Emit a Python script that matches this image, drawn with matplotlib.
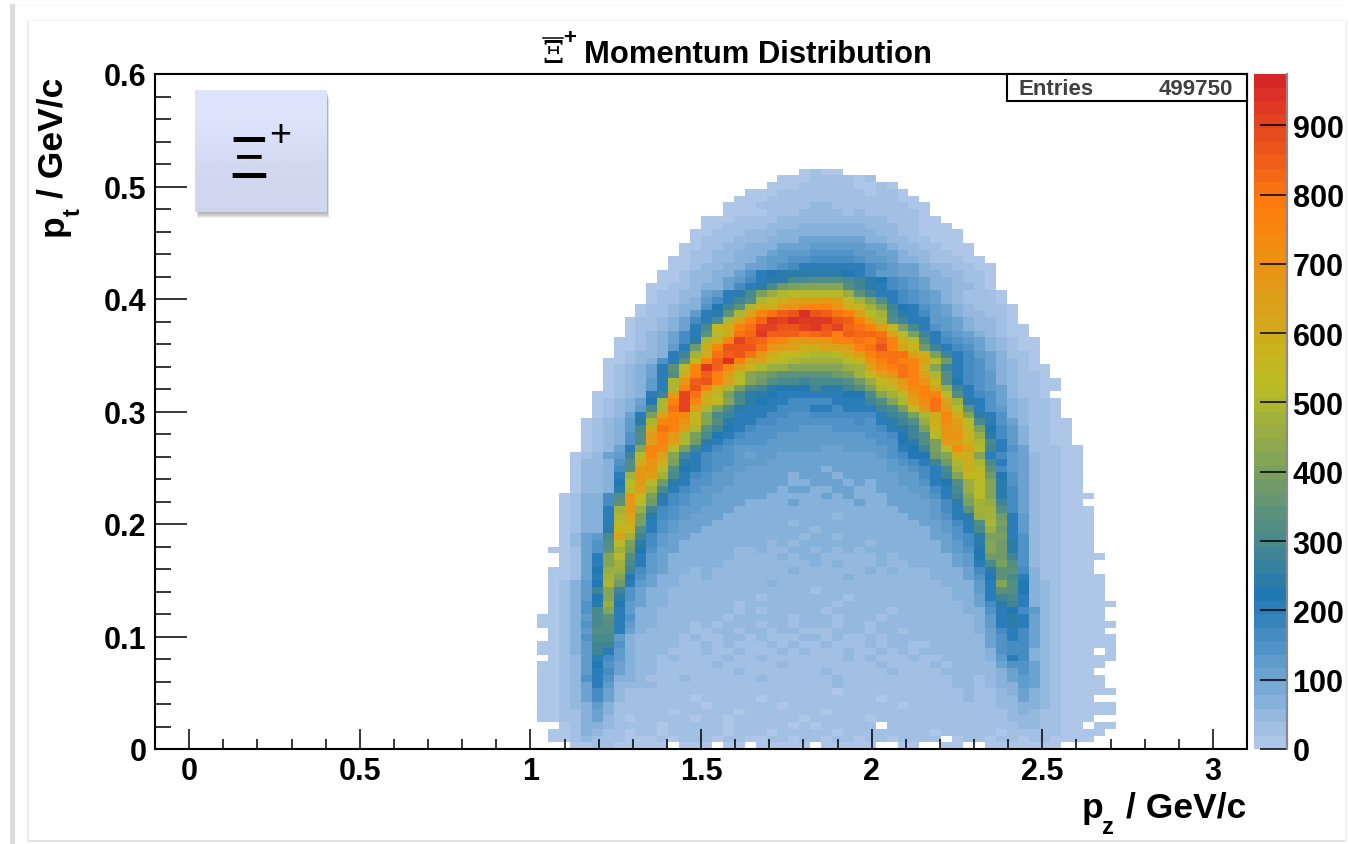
import numpy as np
import matplotlib
matplotlib.use('Agg')
import matplotlib.pyplot as plt
from matplotlib.colors import LinearSegmentedColormap
from matplotlib.lines import Line2D
from matplotlib.patches import Rectangle
from matplotlib.ticker import MultipleLocator

plt.rcParams['font.family'] = ['Liberation Sans', 'DejaVu Sans']
plt.rcParams['font.weight'] = 'bold'

W, H = 1349, 845

# histogram, one string per pt bin (top row first).
# columns are pz bins 35..87, '.' is an empty bin, other chars are counts in steps of 25
level_chars = "0123456789abcdefghijklmnopqrstuvwxyzABCD"
hist_rows = [
    "..... ..... ..... ..... ....0 100.. ..... ..... ..... ..... ...",
    "..... ..... ..... ..... ..000 11110 1.... ..... ..... ..... ...",
    "..... ..... ..... ..... .0001 11110 010.. ..... ..... ..... ...",
    "..... ..... ..... ....0 00111 11111 0110. ..... ..... ..... ...",
    "..... ..... ..... ...00 01111 11111 11100 ..... ..... ..... ...",
    "..... ..... ..... ..000 11111 22111 11110 0.... ..... ..... ...",
    "..... ..... ..... ..000 01112 22212 11111 0.... ..... ..... ...",
    "..... ..... ..... 00011 11222 22222 22111 00... ..... ..... ...",
    "..... ..... ..... 00111 12223 33333 22211 000.. ..... ..... ...",
    "..... ..... ....0 01112 22333 33333 32211 0000. ..... ..... ...",
    "..... ..... ....0 11122 23334 44444 33221 1000. ..... ..... ...",
    "..... ..... ...00 11223 33444 55555 44322 11000 ..... ..... ...",
    "..... ..... ...01 12233 34555 66665 54432 21100 ..... ..... ...",
    "..... ..... ..001 12233 45566 77776 55433 21110 0.... ..... ...",
    "..... ..... ..001 22334 45678 88888 76544 32211 00... ..... ...",
    "..... ..... .0012 23346 89aaa aaa98 75544 33221 10... ..... ...",
    "..... ..... .0012 23457 8aacc dddcb a9765 43321 10... ..... ...",
    "..... ..... 00112 33478 acfgh hhhdb a8765 43322 10... ..... ...",
    "..... ..... 01122 458ac gikll lllie b8876 54321 110.. ..... ...",
    "..... ..... 01123 578bd kmopq qrqmj gd876 54321 110.. ..... ...",
    "..... ....0 11233 69bek oorsu vvsom jgb98 65432 1110. ..... ...",
    "..... ....0 11235 8aekp uwyzC zywvq ljca8 75432 2110. ..... ...",
    "..... ...01 12347 8ckpv xBACB BBzyv pkdb8 85543 2210. ..... ...",
    "..... ...01 12348 cmovw AAzzA BzAxw vqmgc 86543 22100 ..... ...",
    "..... ...01 23478 elowx Byyyw xyvyx xwplg b8654 32100 ..... ...",
    "..... ..001 2347a kovAy xvurr ssvvw vxvol d8765 43210 0.... ...",
    "..... ..001 2358f ouzzz wsqpo oppqv wzvpn fb876 43210 0.... ...",
    "..... ..012 238bj owyzw romml kkloq vwwwp ogb87 54311 0.... ...",
    "..... .0012 368em uyCvp pmlkj jjjln svwvu plf87 64321 0.... ...",
    "..... .0123 48elu Byupn kiihh hhhij ptvwv ohb87 64321 00... ...",
    "..... .0123 48dov yvqlh gfeee eefgj mpswv pkd87 65321 10... ...",
    "..... .0123 58ksy zvplh fdccb cccdf imorv smd97 65321 100.. ...",
    "..... .0123 58kvz uokgc ba999 baabd gklqt vpib8 65421 100.. ...",
    "..... 00123 8bqAw olgca a9888 88899 chjls vvld8 76421 10... ...",
    "..... 01234 9kvAu omhca 98877 77888 bdhkq twpja 86432 110.. ...",
    "..... 01235 ckwAq kgca8 88777 88788 8bcgm rwrle 86532 110.. ...",
    "..... 01248 gpvum hcb88 87766 77777 78bcg kouoh a8632 110.. ...",
    "....0 1235a kuvsm hda88 77666 66667 68abd iotql c8642 1100. ...",
    "....0 1235c owvqk eb987 66665 55666 678ab gnsrm g9753 1100. ...",
    "....0 1236d rvrkg c9876 66555 55555 6679b dlssn ia753 1100. ...",
    "....0 1236d qvqkf a8766 65555 55555 5669a dgrqo kc853 1100. ...",
    "....0 1248h vtlgb 87655 55555 54455 55689 bgltp lb864 11100 ...",
    "...01 245bl uphb8 76654 55444 44444 45679 9fhoo h8754 21100 ...",
    "...02 236do soga8 76655 54444 44444 44567 8bfko kc854 21100 ...",
    "...02 237dr sld98 76554 44444 43444 44556 78cjo le754 21100 ...",
    "...02 238js qjc87 65544 44434 44344 44455 78bhm mf964 21100 ...",
    "...02 239lr lfa86 65544 44433 44434 34455 689di lha64 21100 ...",
    "...02 23alq jc876 55444 44344 33443 34445 578ci lha74 21100 ...",
    "..013 37dsm ga765 54444 43333 34343 33444 568bh lha74 21100 0..",
    "..013 37erl f8765 54443 33343 33334 33444 457ag jib74 21100 ...",
    "..013 38jri b7655 44433 33333 33333 33344 4578e jjd74 21100 0..",
    "..013 38kpg a7654 44333 33333 33233 33334 4568a ijf85 21100 0..",
    "..013 38log 86544 43333 33323 33333 33333 44578 dkg85 21100 0..",
    "..013 3anmd 86544 33333 33333 23333 33333 34568 cif85 21100 0..",
    "..024 5cpjb 75443 33333 33332 33233 33333 34467 agg86 21100 0..",
    "..024 6dlga 75433 33333 32323 33333 23333 33457 ahfa6 21100 0..",
    ".0014 6ejf9 64433 33322 32233 23232 33333 33456 9hfa6 21100 0..",
    "..014 8hld8 54333 33322 22323 32222 23233 33345 9ffb6 21100 00.",
    "..014 8hjc8 54333 33222 22222 32322 23223 33345 8cgd6 21100 0..",
    ".0014 9iib7 54332 32222 22232 22222 32322 23334 7aee7 31100 0..",
    ".0014 8jh96 43322 32222 22222 22232 22222 23334 69ec8 31100 00.",
    ".0135 9kf85 43322 22222 23222 22222 22222 22333 58hd9 32100 00.",
    ".0135 bhb64 33222 22222 22222 12222 22222 22233 58ed9 32100 00.",
    ".0135 9ha64 33222 22222 12222 22212 22222 22233 48bc8 32100 00.",
    ".0136 ai954 33222 22212 22222 22122 22222 22223 47ab8 32100 000",
    ".0136 ch853 32222 22212 12222 21222 22122 22223 36897 52100 00.",
    "00135 ce863 32222 22122 22212 22122 21222 22222 358a8 42100 00.",
    "00136 cd853 32221 21222 12212 22122 12222 22222 358a8 42100 000",
    ".0135 dd843 22221 12212 21221 11222 12212 22222 34787 42100 00.",
    ".0136 cc532 22212 11221 21112 21211 21222 22222 24687 42100 000",
    "00135 bb632 22211 21211 12121 12111 21221 12222 24677 42100 000",
    "00135 b8532 22111 21121 11212 11121 12121 22222 23677 32100 0.0",
    ".0125 87532 21211 11211 21111 11121 21112 11222 23587 32100 000",
    "00125 96432 21111 12111 11211 11111 12111 12122 22466 42100 00.",
    "00125 87432 21111 11121 11111 12111 11211 11222 22346 42100 0..",
    "00126 86332 11121 11111 21111 11211 11111 11122 12345 42100 00.",
    "00124 85222 21111 11111 11111 11211 11111 11122 12335 42100 00.",
    "00124 74211 11111 11111 11111 11011 11111 11112 11234 32100 000",
    "00124 74211 11110 11111 01111 11111 10111 11112 11224 32100 0..",
    "00123 53111 11111 01111 11011 11111 11101 11111 11223 32100 000",
    "00113 43111 11011 11101 11111 10111 11111 11111 11123 21100 000",
    "00113 42101 11110 11011 11110 11111 01111 11111 11122 21100 0..",
    "..013 32111 10111 11011 11101 01111 1.111 11111 11112 21100 .00",
    ".0013 21101 10111 11011 10111 11011 11111 10111 11011 11100 00.",
    ".0012 11100 01011 10110 01101 10110 11011 11.01 10110 11000 0..",
    "...00 11000 00.00 0.00. 00000 .0000 0..00 ..00. .0000 000.. ...",
]

x_ticks = [0, 0.5, 1, 1.5, 2, 2.5, 3]
x_labels = ['0', '0.5', '1', '1.5', '2', '2.5', '3']
y_ticks = [0, 0.1, 0.2, 0.3, 0.4, 0.5, 0.6]
y_labels = ['0', '0.1', '0.2', '0.3', '0.4', '0.5', '0.6']
z_ticks = [0, 100, 200, 300, 400, 500, 600, 700, 800, 900]
entries = 499750

# same look as the ROOT palette in the slide
cmap = LinearSegmentedColormap.from_list('root_tab', [
    (0.0, '#aec7e8'), (215 / 975, '#1f77b4'), (530 / 975, '#bcbd22'),
    (785 / 975, '#ff7f0e'), (1.0, '#d62728')], N=50)


def decode(row):
    row = row.replace(' ', '')
    out = []
    for ch in row:
        if ch == '.':
            out.append(np.nan)
        elif ch == '0':
            out.append(8)
        else:
            out.append(level_chars.index(ch) * 25)
    return out


def px_axes(x0, y0, x1, y1, **kw):
    return fig.add_axes([x0 / W, 1 - y1 / H, (x1 - x0) / W, (y1 - y0) / H], **kw)


def px_text(x, y, s, **kw):
    return fig.text(x / W, 1 - y / H, s, **kw)


def px_rect(x, y, w, h, **kw):
    fig.add_artist(Rectangle((x / W, 1 - (y + h) / H), w / W, h / H, transform=fig.transFigure, lw=0, **kw))


counts = np.ma.masked_invalid(np.array([decode(r) for r in hist_rows][::-1], dtype=float))
x_edges = np.linspace(-0.1, 3.1, 101)[35:89]
y_edges = np.linspace(0, 0.6, 101)[:87]

fig = plt.figure(figsize=(W / 100, H / 100), dpi=100)

# slide background lines
px_rect(10, 5, 5, 840, color='#dcdcdc')
px_rect(27, 841, 1318, 2, color='#e2e2e2')
px_rect(27, 22, 1.5, 821, color='#ececec')
px_rect(27, 21, 1318, 1, color='#f5f5f5')
px_rect(15, 6, 1330, 1, color='#f7f7f7')
px_rect(1345, 22, 1.5, 821, color='#f0f0f0')

ax = px_axes(155, 75, 1247, 750)
mesh = ax.pcolormesh(x_edges, y_edges, counts, cmap=cmap, vmin=0, vmax=974)
ax.set_xlim(-0.1, 3.1)
ax.set_ylim(0, 0.6)
ax.set_xticks(x_ticks)
ax.set_xticklabels(x_labels)
ax.set_yticks(y_ticks)
ax.set_yticklabels(y_labels)
ax.xaxis.set_minor_locator(MultipleLocator(0.1))
ax.yaxis.set_minor_locator(MultipleLocator(0.02))
ax.tick_params(axis='x', which='major', direction='in', length=14.5, width=1.1, labelsize=22, pad=5)
ax.tick_params(axis='x', which='minor', direction='in', length=7.2, width=1.1)
ax.tick_params(axis='y', which='major', direction='in', length=23, width=1.1, labelsize=22, pad=6)
ax.tick_params(axis='y', which='minor', direction='in', length=11.5, width=1.1)
for s in ax.spines.values():
    s.set_linewidth(1.5)
ax.set_axisbelow(False)

# title, the Xi bar is drawn by hand since mathtext makes it too heavy
px_text(553.5, 63, '\u039e', ha='center', va='baseline', fontsize=22, fontweight='normal', family='DejaVu Serif')
fig.add_artist(Line2D([543 / W, 563 / W], [1 - 39 / H, 1 - 39 / H], color='black', lw=1.1))
px_text(570, 44, '+', ha='center', va='baseline', fontsize=16)
px_text(584, 63, 'Momentum Distribution', ha='left', va='baseline', fontsize=22.3)

# axis titles with the subscript placed by hand
px_text(1082, 818, 'p', ha='left', va='baseline', fontsize=25.5)
px_text(1102, 834, 'z', ha='left', va='baseline', fontsize=17)
px_text(1246, 818, '/ GeV/c', ha='right', va='baseline', fontsize=25.5)
rot = dict(rotation=90, rotation_mode='anchor', ha='left', va='baseline')
px_text(63, 236, 'p', fontsize=25.5, **rot)
px_text(80, 216, 't', fontsize=17, **rot)
px_text(63, 198, '/ GeV/c', fontsize=25.5, **rot)

# stats box
stats = px_axes(1007, 75, 1247, 102)
stats.set_xticks([])
stats.set_yticks([])
for s in stats.spines.values():
    s.set_linewidth(1.5)
stats.text(12 / 240, 0.47, 'Entries', transform=stats.transAxes, va='center', fontsize=16, color='#404040')
stats.text(226 / 240, 0.47, str(entries), transform=stats.transAxes, va='center', ha='right', fontsize=16, color='#404040')

# palette
cax = px_axes(1254, 75, 1287, 750)
cbar = fig.colorbar(mesh, cax=cax, ticks=z_ticks)
cbar.outline.set_visible(False)
cax.tick_params(direction='in', length=19.5, width=1.1, labelsize=22, pad=4)
cax.plot([1, 1], [0, 1], transform=cax.transAxes, color='#8a8a8a', lw=1.6, clip_on=False)

# particle label box with shadow
for i in range(6):
    px_rect(197 + i * 0.3, 99 - i, 132 - i * 0.6, 120, color='#555555', alpha=0.09, zorder=1)
box = px_axes(195, 91, 327, 213)
box.set_zorder(2)
box.imshow(np.array([[0.0], [1.0]]), aspect='auto', interpolation='bilinear',
           cmap=LinearSegmentedColormap.from_list('box', ['#dde3fa', '#d0d6ee']))
box.axis('off')
px_text(249, 178, '\u039e', ha='center', va='baseline', fontsize=43, color='black', fontweight='normal', zorder=3)
px_text(280, 146, '+', ha='center', va='baseline', fontsize=27, color='black', fontweight='normal', zorder=3)

fig.savefig('out.png', dpi=100)
